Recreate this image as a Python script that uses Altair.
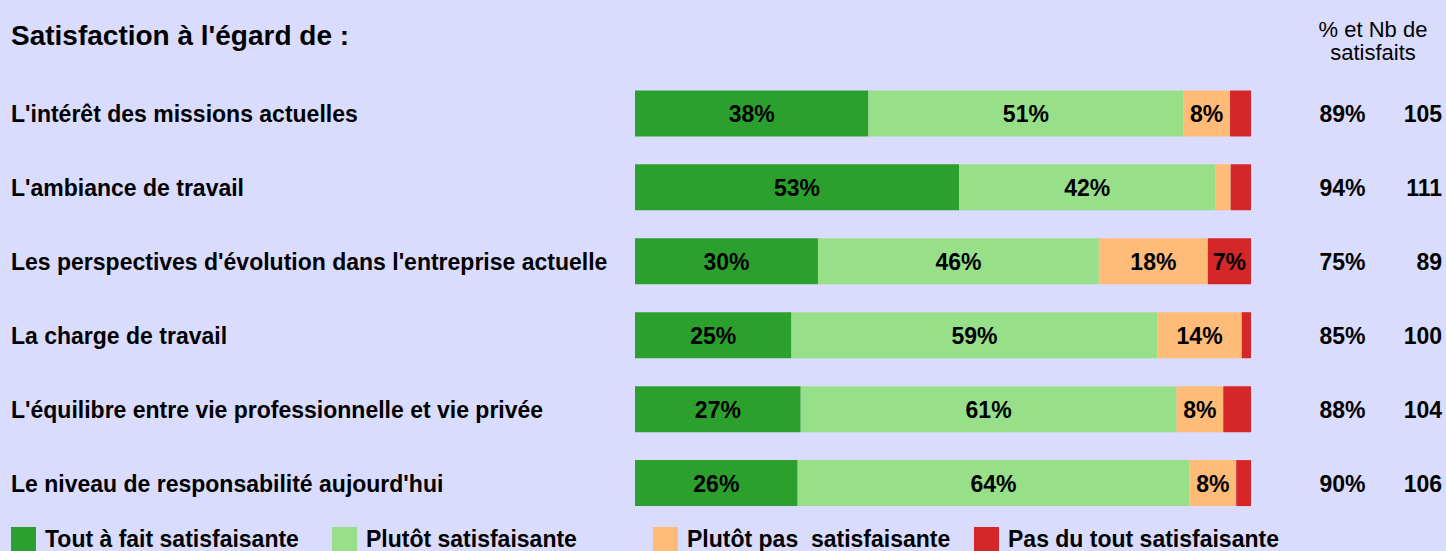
import altair as alt
import pandas as pd

FONT = "Liberation Sans"

title_text = "Satisfaction à l'égard de :"
header_text = "% et Nb de\nsatisfaits"

categories = [
    "L'intérêt des missions actuelles",
    "L'ambiance de travail",
    "Les perspectives d'évolution dans l'entreprise actuelle",
    "La charge de travail",
    "L'équilibre entre vie professionnelle et vie privée",
    "Le niveau de responsabilité aujourd'hui",
]

responses = [
    "Tout à fait satisfaisante",
    "Plutôt satisfaisante",
    "Plutôt pas \u00a0satisfaisante",
    "Pas du tout satisfaisante",
]
colors = ["#2ca02c", "#98df8a", "#ffbb78", "#d62728"]

tout_a_fait = [37.9, 52.6, 29.7, 25.4, 26.9, 26.4]
plutot = [51.1, 41.6, 45.6, 59.4, 61.0, 63.6]
plutot_pas = [7.6, 2.5, 17.7, 13.7, 7.6, 7.6]
pas_du_tout = [3.4, 3.3, 7.0, 1.5, 4.5, 2.4]

pct_satisfaits = [89, 94, 75, 85, 88, 90]
nb_satisfaits = [105, 111, 89, 100, 104, 106]

series = [tout_a_fait, plutot, plutot_pas, pas_du_tout]

rows = []
for i, cat in enumerate(categories):
    start = 0.0
    for k, resp in enumerate(responses):
        v = series[k][i]
        rows.append({"cat": cat, "resp": resp, "k": k, "pct": v,
                     "start": start, "end": start + v, "mid": start + v / 2})
        start += v
bars_df = pd.DataFrame(rows)

rows_df = pd.DataFrame({
    "cat": categories,
    "sat": [f"{p}%" for p in pct_satisfaits],
    "nb": [str(n) for n in nb_satisfaits],
})

x_scale = alt.Scale(domain=[0, 100], range=[635, 1251])
y_scale = alt.Scale(domain=categories, range=[62.5, 534],
                    paddingInner=0.3775, paddingOuter=0.3775)
y_enc = alt.Y("cat:N", scale=y_scale, axis=None)

bars = alt.Chart(bars_df).mark_bar().encode(
    x=alt.X("start:Q", scale=x_scale, axis=None),
    x2="end:Q",
    y=y_enc,
    color=alt.Color(
        "resp:N",
        scale=alt.Scale(domain=responses, range=colors),
        legend=alt.Legend(
            title=None, orient="none", legendX=11, legendY=527,
            direction="horizontal", columns=4, gridAlign="all",
            columnPadding=16, symbolType="square", symbolSize=625,
            symbolStrokeWidth=0, symbolOpacity=1, labelFont=FONT,
            labelFontSize=23, labelFontWeight="bold", labelColor="black",
            labelLimit=400, labelOffset=9,
        ),
    ),
)

bar_text = alt.Chart(bars_df).transform_filter(
    "datum.pct >= 5"
).transform_calculate(
    label="format(datum.pct, '.0f') + '%'"
).mark_text(font=FONT, fontSize=23, fontWeight="bold", color="black",
            baseline="middle", dy=1.5).encode(
    x=alt.X("mid:Q", scale=x_scale, axis=None),
    y=y_enc,
    text="label:N",
)

cat_text = alt.Chart(rows_df).mark_text(
    font=FONT, fontSize=23, fontWeight="bold", color="black",
    align="left", baseline="middle", dy=1.5,
).encode(x=alt.value(11), y=y_enc, text="cat:N")

sat_text = alt.Chart(rows_df).mark_text(
    font=FONT, fontSize=23, fontWeight="bold", color="black",
    align="center", baseline="middle", dy=1.5,
).encode(x=alt.value(1342.5), y=y_enc, text="sat:N")

nb_text = alt.Chart(rows_df).mark_text(
    font=FONT, fontSize=23, fontWeight="bold", color="black",
    align="right", baseline="middle", dy=1.5,
).encode(x=alt.value(1442), y=y_enc, text="nb:N")

title_df = pd.DataFrame({"t": [title_text]})
title_mark = alt.Chart(title_df).mark_text(
    font=FONT, fontSize=28, fontWeight="bold", color="black",
    align="left", baseline="alphabetic",
).encode(x=alt.value(11), y=alt.value(45), text="t:N")

header_df = pd.DataFrame({"t": [header_text]})
header_mark = alt.Chart(header_df).mark_text(
    font=FONT, fontSize=22, color="black", align="center",
    baseline="alphabetic", lineBreak="\n", lineHeight=23,
).encode(x=alt.value(1373), y=alt.value(36.5), text="t:N")

chart = alt.layer(
    bars, bar_text, cat_text, sat_text, nb_text, title_mark, header_mark
).properties(
    width=1446, height=551, padding=0,
    autosize=alt.AutoSizeParams(type="none"),
    background="#dadcfd",
).configure_view(stroke=None)

chart.save("out.html", embed_options={"renderer": "svg", "actions": False})
